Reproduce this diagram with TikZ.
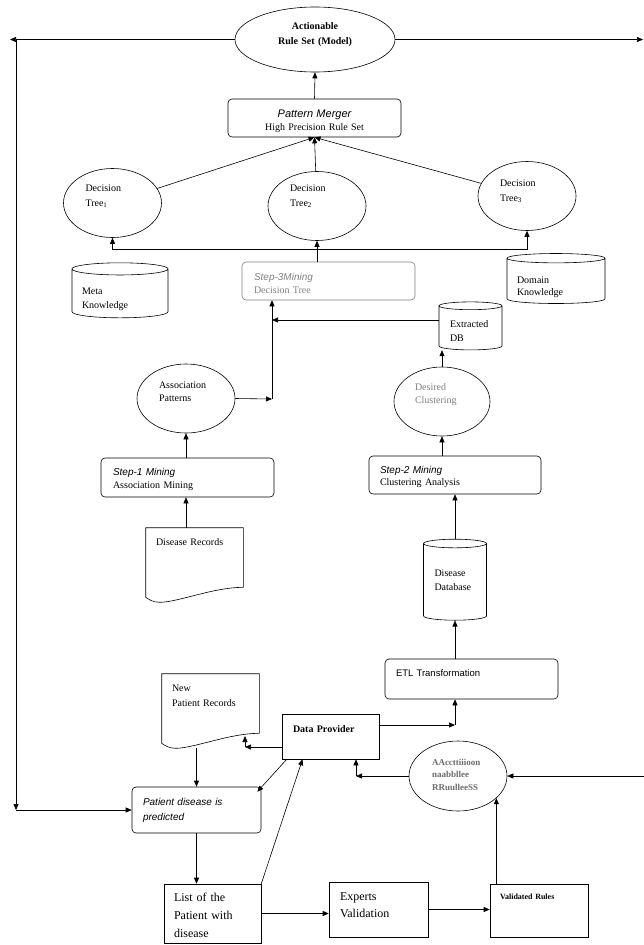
\documentclass[tikz,border=0pt]{standalone}
\usepackage{fontspec}
\setmainfont{Liberation Serif}
\setsansfont{Liberation Sans}
\usetikzlibrary{arrows.meta, shapes.geometric, calc}

% outline of a document symbol round an (undrawn) node
\newcommand{\docoutline}[1]{%
  \draw (#1.north west) -- (#1.north east) -- ([yshift=15pt]#1.south east)
    .. controls ([xshift=-30pt,yshift=15pt]#1.south east) and ([xshift=32pt]#1.south west) .. ([xshift=14pt]#1.south west)
    .. controls ([xshift=7pt]#1.south west) and ([xshift=3pt,yshift=3pt]#1.south west) .. ([yshift=5pt]#1.south west) -- cycle;}

\tikzset{
  every picture/.style={line width=0.6pt},
  arrow/.style={-{Triangle[length=6pt,width=5pt]}},
  geo/.style n args={5}{minimum width=#1pt, minimum height=#2pt, text width=#3pt, text height=#4pt, text depth=#5pt},
  rbox/.style={draw, rounded corners=4pt, align=left, inner sep=0pt, font=\fontsize{10}{13}\selectfont},
  sbox/.style={draw, align=left, inner sep=0pt, font=\fontsize{10}{15}\selectfont},
  oval/.style={draw, ellipse, align=left, inner sep=0pt, font=\fontsize{10}{15}\selectfont},
  drum/.style={draw, cylinder, shape border rotate=90, aspect=#1, align=left, inner sep=0pt, font=\fontsize{10}{14}\selectfont},
  doc/.style={align=left, inner sep=0pt, font=\fontsize{10}{15}\selectfont},
}

\begin{document}
\begin{tikzpicture}[x=1pt, y=-1pt]
  \useasboundingbox (0,0) rectangle (644,945);
  % top of the model
  \node[oval, geo={160}{65}{100}{7}{28}, align=center, font=\fontsize{10}{15}\selectfont\bfseries] (model) at (315,39.5) {Actionable\\Rule Set (Model)};
  \node[rbox, geo={173}{38}{150}{18}{20}, align=center] (merger) at (314.5,118) {{\sffamily\itshape\fontsize{11}{13}\selectfont Pattern Merger}\\High Precision Rule Set};
  \foreach \i/\x/\y/\d in {1/112.5/203/31, 2/317/206/37, 3/527/196/27}
    \node[oval, geo={98}{69}{54}{7}{\d}] (tree\i) at (\x,\y) {Decision\\Tree\textsubscript{\i}};
  \node[drum=0.16, geo={96}{55}{76}{7}{6}] (meta) at (120,293.5) {Meta\\Knowledge};
  \node[drum=0.12, geo={98}{50}{78}{7}{3}, font=\fontsize{10}{12}\selectfont] (domain) at (556,281) {Domain\\Knowledge};
  \node[rbox, geo={173}{38}{149}{18}{20}, draw=gray, text=gray] (mine3) at (328.5,281) {{\sffamily\itshape Step-3Mining}\\Decision Tree};
  % mining steps
  \node[drum=0.19, geo={63}{48}{41}{7}{8}] (xdb) at (470.5,328) {Extracted\\DB};
  \node[oval, geo={98}{69}{54}{7}{28}, font=\fontsize{10}{13}\selectfont] (assoc) at (186,398.5) {Association\\Patterns};
  \node[oval, geo={96}{69}{54}{7}{30}, text=gray, font=\fontsize{10}{13}\selectfont] (desired) at (442,401.5) {Desired\\Clustering};
  \node[rbox, geo={173}{39}{149}{17}{22}] (mine1) at (187.5,477.5) {{\sffamily\itshape Step-1 Mining}\\Association Mining};
  \node[rbox, geo={172}{38}{150}{17}{21}, font=\fontsize{10}{12}\selectfont] (mine2) at (455,475) {{\sffamily\itshape Step-2 Mining}\\Clustering Analysis};
  \node[doc, geo={97}{74}{77}{17}{57}] (recs) at (194.5,565) {Disease Records};
  \node[drum=0.21, geo={63}{81}{41}{7}{19}] (diseasedb) at (455,582) {Disease\\Database};
  % prediction loop
  \node[rbox, geo={173}{40}{151}{17}{23}, font=\sffamily\fontsize{9.5}{12}\selectfont] (etl) at (471.5,679) {ETL Transformation};
  \node[doc, geo={97}{74}{77}{17}{57}] (newrecs) at (210.5,711) {New\\Patient Records};
  \node[sbox, geo={97}{45}{75}{18}{27}, font=\bfseries] (provider) at (330.5,736.5) {Data Provider};
  \node[oval, geo={98}{70}{52}{7}{29}, text=gray!85!black, font=\fontsize{9}{12.5}\selectfont\bfseries] (arules) at (458,776) {AAccttiiioon\\naabbllee\\RRuulleeSS};
  \node[rbox, geo={129}{46}{107}{18}{28}, font=\sffamily\itshape\fontsize{10}{15}\selectfont] (predict) at (196.5,810) {Patient disease is\\predicted};
  \node[sbox, geo={97}{59}{77}{17}{42}, font=\fontsize{12}{18}\selectfont] (plist) at (212.5,913.5) {List of the\\Patient with\\disease};
  \node[sbox, geo={99}{55}{77}{18}{37}, font=\fontsize{12}{17}\selectfont] (experts) at (378.5,909.5) {Experts\\Validation};
  \node[sbox, geo={98}{53}{78}{15}{38}, font=\fontsize{8}{10}\selectfont\bfseries] (validated) at (539,910.5) {Validated Rules};
  \docoutline{recs}
  \docoutline{newrecs}

  \coordinate (lt) at (10,39.5);
  \coordinate (rt) at (643,39.5);
  \coordinate (lv) at (16,39.5);
  \coordinate (lb) at (16,810);
  \coordinate (fb) at (317,249);
  \coordinate (jn) at (272,399);
  \coordinate (jx) at (272,320);
  \coordinate (ej) at (455,725);
  \coordinate (nj) at (245,747);
  \coordinate (nk) at (245,736);
  \coordinate (aj) at (356,776);
  \coordinate (rin) at (644,776);

  \draw[arrow] (model.west) -- (lt);
  \draw[arrow] (model.east) -- (rt);
  \draw[arrow] (lv) -- (lb);
  \draw[arrow] (lb) -- (predict.west);
  \draw[arrow] (merger.north) -- (model.south);
  \foreach \i in {1,2,3}
    \draw[arrow] (tree\i) -- (merger.south);
  \draw[arrow] (mine3.north -| tree2.south) -- (tree2.south);
  \draw[arrow] (fb) -| (tree1.south);
  \draw[arrow] (fb) -| (tree3.south);
  \draw[arrow] (jn) -- (jn |- mine3.south);
  \draw[arrow] (xdb.west |- jx) -- (jx);
  \draw[arrow] (assoc.east) -- (jn);
  \draw[arrow] (mine1.north -| assoc.south) -- (assoc.south);
  \draw[arrow] (recs.north -| assoc.south) -- (mine1.south -| assoc.south);
  \draw[arrow] (desired.north) -- (desired.north |- xdb.south);
  \draw[arrow] (desired.south |- mine2.north) -- (desired.south);
  \draw[arrow] (diseasedb.north) -- (diseasedb.north |- mine2.south);
  \draw[arrow] (etl.north -| diseasedb.south) -- (diseasedb.south);
  \draw[arrow] (provider.east |- ej) -- (ej);
  \draw[arrow] (ej) -- (ej |- etl.south);
  \draw[arrow] (provider.west |- nj) -- (nj);
  \draw[arrow] (nj) -- (nk);
  \draw[arrow] (newrecs.south -| predict.north) -- (predict.north);
  \draw[arrow] ([xshift=5pt]provider.south west) -- ([xshift=-4pt,yshift=-5pt]predict.north east);
  \draw[arrow] (predict.south) -- (predict.south |- plist.north);
  \draw[arrow] (plist.north east) -- ([xshift=-28pt]provider.south);
  \draw[arrow] (plist.east) -- (plist.east -| experts.west);
  \draw[arrow] (experts.east) -- (experts.east -| validated.west);
  \draw[arrow] (validated.north -| arules.-30) -- (arules.-30);
  \draw[arrow] (arules.west) -- (aj);
  \draw[arrow] (aj) -- (aj |- provider.south);
  \draw[arrow] (rin) -- (arules.east);
\end{tikzpicture}
\end{document}
